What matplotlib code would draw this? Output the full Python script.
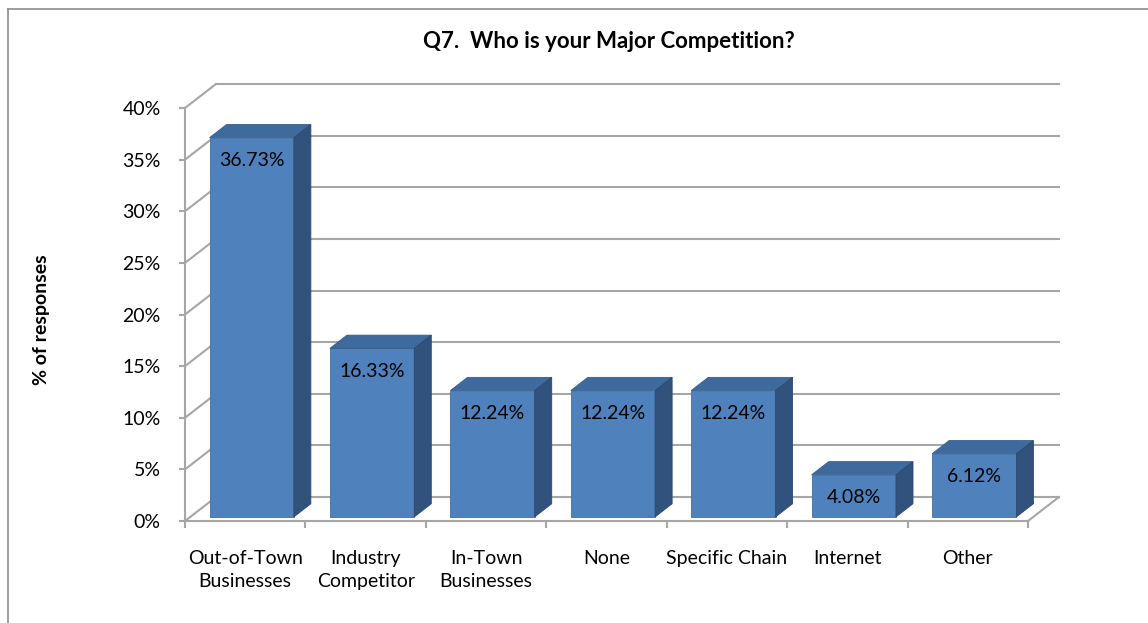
import matplotlib
matplotlib.use("Agg")
import matplotlib.pyplot as plt
from matplotlib.patches import Polygon
from matplotlib.lines import Line2D

plt.rcParams['font.family'] = ['Lato', 'DejaVu Sans']

# Q7 survey answers (% of responses)
categories = ["Out-of-Town\nBusinesses", "Industry\nCompetitor", "In-Town\nBusinesses",
              "None", "Specific Chain", "Internet", "Other"]
values = [36.73, 16.33, 12.24, 12.24, 12.24, 4.08, 6.12]
yticks = [0, 5, 10, 15, 20, 25, 30, 35, 40]

# oblique depth vector of the 3D box, in data units (x: slots, y: percent)
DX, DY = 0.257, 2.32
d0, dd = 0.17, 0.55      # bar sits between these depth fractions
gap, w = 0.16, 0.70      # bar offset and width inside its slot

grid_c = '#a6a6a6'
front_c, top_c, side_c = '#4f81bd', '#3e6a9e', '#30527d'

fig = plt.figure(figsize=(11.48, 6.23), dpi=100)
ax = fig.add_axes([185/1148, 1 - 521/623, 843/1148, 413/623])
ax.set_xlim(0, len(values))
ax.set_ylim(0, 40)
ax.patch.set_visible(False)

n = len(values)
# back wall gridlines and the left wall diagonals
for v in yticks:
    ax.add_line(Line2D([DX, n + DX], [v + DY, v + DY], color=grid_c, lw=1.5, clip_on=False, zorder=1))
    ax.add_line(Line2D([0, DX], [v, v + DY], color=grid_c, lw=1.5, clip_on=False, zorder=1))
# right floor edge
ax.add_line(Line2D([n, n + DX], [0, DY], color=grid_c, lw=1.5, clip_on=False, zorder=1))

# bars: front face from ax.bar, top and side faces built from the same values
xs = [i + gap + d0 * DX for i in range(n)]
base = d0 * DY
ax.bar(xs, values, width=w, bottom=base, align='edge', color=front_c,
       edgecolor='#41709f', linewidth=0.6, zorder=3, clip_on=False)
for x, v in zip(xs, values):
    t = base + v
    top = [(x, t), (x + w, t), (x + w + dd * DX, t + dd * DY), (x + dd * DX, t + dd * DY)]
    side = [(x + w, base), (x + w, t), (x + w + dd * DX, t + dd * DY), (x + w + dd * DX, base + dd * DY)]
    ax.add_patch(Polygon(top, closed=True, fc=top_c, ec='#355d8c', lw=0.6, zorder=3, clip_on=False))
    ax.add_patch(Polygon(side, closed=True, fc=side_c, ec='#2c4a70', lw=0.6, zorder=3, clip_on=False))
    ax.annotate(f"{v:.2f}%", (x + w / 2, t), xytext=(0, -16.5), textcoords='offset points',
                ha='center', va='center', fontsize=14, color='black', zorder=4)

# axes lines and ticks
for s in ['top', 'right']:
    ax.spines[s].set_visible(False)
for s in ['left', 'bottom']:
    ax.spines[s].set_color(grid_c)
    ax.spines[s].set_linewidth(1.5)
ax.set_yticks(yticks)
ax.set_yticklabels([f"{v}%" for v in yticks])
ax.set_xticks([i + 0.5 for i in range(n)])
ax.set_xticklabels(categories, linespacing=1.4)
ax.set_xticks(range(n + 1), minor=True)
ax.tick_params(axis='y', length=4.5, width=1.5, color=grid_c, labelsize=14, pad=13)
ax.tick_params(axis='x', which='major', length=0, labelsize=14, pad=21)
ax.tick_params(axis='x', which='minor', length=5, width=1.5, color=grid_c)

fig.text(609/1148, 1 - 42/623, "Q7.  Who is your Major Competition?", ha='center', va='center',
         fontsize=16, fontweight='bold')
fig.text(42/1148, 1 - 320/623, "% of responses", ha='center', va='center', rotation=90,
         fontsize=14, fontweight='bold')

# chart area frame
fig.add_artist(Line2D([8/1148, 1], [1 - 9/623, 1 - 9/623], color='#8c8c8c', lw=1.2))
fig.add_artist(Line2D([8/1148, 8/1148], [0, 1 - 9/623], color='#8c8c8c', lw=1.2))

fig.savefig("out.png", dpi=100)
